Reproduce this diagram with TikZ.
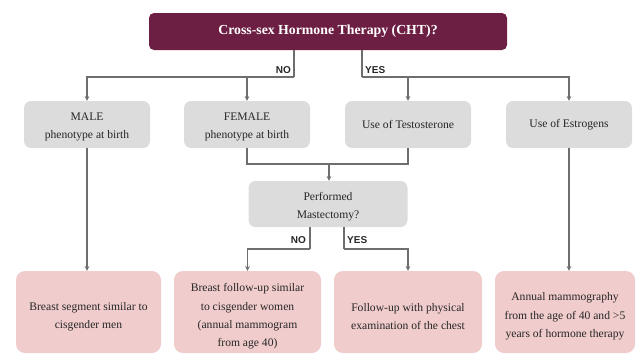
\documentclass[tikz,border=0pt]{standalone}
\usepackage{fontspec}
\setmainfont{Liberation Serif}
\newfontfamily\yesnofont{Liberation Sans}
\usepackage{xcolor}
\usepackage{tikz}
\definecolor{maroon}{HTML}{6D1F43}
\definecolor{boxgray}{HTML}{DCDCDC}
\definecolor{boxpink}{HTML}{F1CCCC}
\definecolor{linegray}{HTML}{6E6E6E}
\definecolor{textgray}{HTML}{262626}
\newcommand{\toprule}{\rule{0pt}{17pt}}
\newcommand{\grayrule}{\rule{0pt}{13pt}}

\begin{document}
\begin{tikzpicture}[x=1pt,y=-1pt,
	topbox/.style={fill=maroon,rounded corners=5pt,minimum width=358pt,minimum height=37pt,text=white,font=\bfseries\fontsize{13.8}{16}\selectfont},
	graybox/.style={fill=boxgray,rounded corners=7pt,minimum width=126pt,minimum height=47pt,align=center,text=textgray,font=\fontsize{11.6}{18}\selectfont},
	pinkbox/.style={fill=boxpink,rounded corners=9pt,minimum height=82pt,align=center,text=textgray,font=\fontsize{11.6}{18.3}\selectfont},
	link/.style={draw=linegray,line width=1.1pt},
	arr/.style={link,-stealth},
	yn/.style={font=\yesnofont\bfseries\fontsize{10}{12}\selectfont,text=black!85,inner sep=1pt}]
			\useasboundingbox (0,0) rectangle (636,356);
			% 方框
			\node[topbox] (cht) at (328,31.5) {Cross-sex Hormone Therapy (CHT)?};
			\node[graybox] (male) at (87,124.5) {\grayrule MALE\\phenotype at birth};
			\node[graybox] (female) at (247,124.5) {\grayrule FEMALE\\phenotype at birth};
			\node[graybox] (testo) at (408,124.5) {Use of Testosterone};
			\node[graybox] (estro) at (569,124.5) {Use of Estrogens};
			\node[graybox,minimum width=159pt,minimum height=46pt] (mast) at (328,204) {\grayrule Performed\\Mastectomy?};
			\node[pinkbox,minimum width=145pt] (men) at (88.5,312) {\toprule Breast segment similar to\\cisgender men};
			\node[pinkbox,minimum width=147pt] (women) at (247.5,312) {\toprule Breast follow-up similar\\to cisgender women\\(annual mammogram\\from age 40)};
			\node[pinkbox,minimum width=148pt] (exam) at (408,312) {\toprule Follow-up with physical\\examination of the chest};
			\node[pinkbox,minimum width=140pt] (mammo) at (565,312) {\toprule Annual mammography\\from the age of 40 and >5\\years of hormone therapy};
			% CHT 分支
			\coordinate (no) at (294,77);
			\coordinate (yes) at (362,77);
			\draw[link] (cht.south -| no) -- (no);
			\draw[arr] (no) -| (male.north);
			\draw[arr] (female.north |- no) -- (female.north);
			\draw[link] (cht.south -| yes) -- (yes);
			\draw[arr] (yes) -| (estro.north);
			\draw[arr] (testo.north |- yes) -- (testo.north);
			\node[yn,anchor=south east] (nolbl) at (292,75) {NO};
			\node[yn,anchor=south west] (yeslbl) at (364,75) {YES};
			% 汇合到乳房切除
			\coordinate (join) at (329,164);
			\draw[link] (female.south) |- (join) -| (testo.south);
			\draw[arr] (join) -- (join |- mast.north);
			% 乳房切除分支
			\coordinate (mno) at (310,249);
			\coordinate (myes) at (344,249);
			\draw[link] (mast.south -| mno) -- (mno);
			\draw[arr] (mno) -| (women.north);
			\draw[link] (mast.south -| myes) -- (myes);
			\draw[arr] (myes) -| (exam.north);
			\node[yn,anchor=south east] (mnolbl) at (307,245) {NO};
			\node[yn,anchor=south west] (myeslbl) at (346,245) {YES};
			% 两侧
			\draw[arr] (male.south) -- (male.south |- men.north);
			\draw[arr] (estro.south) -- (estro.south |- mammo.north);
		\end{tikzpicture}
\end{document}
